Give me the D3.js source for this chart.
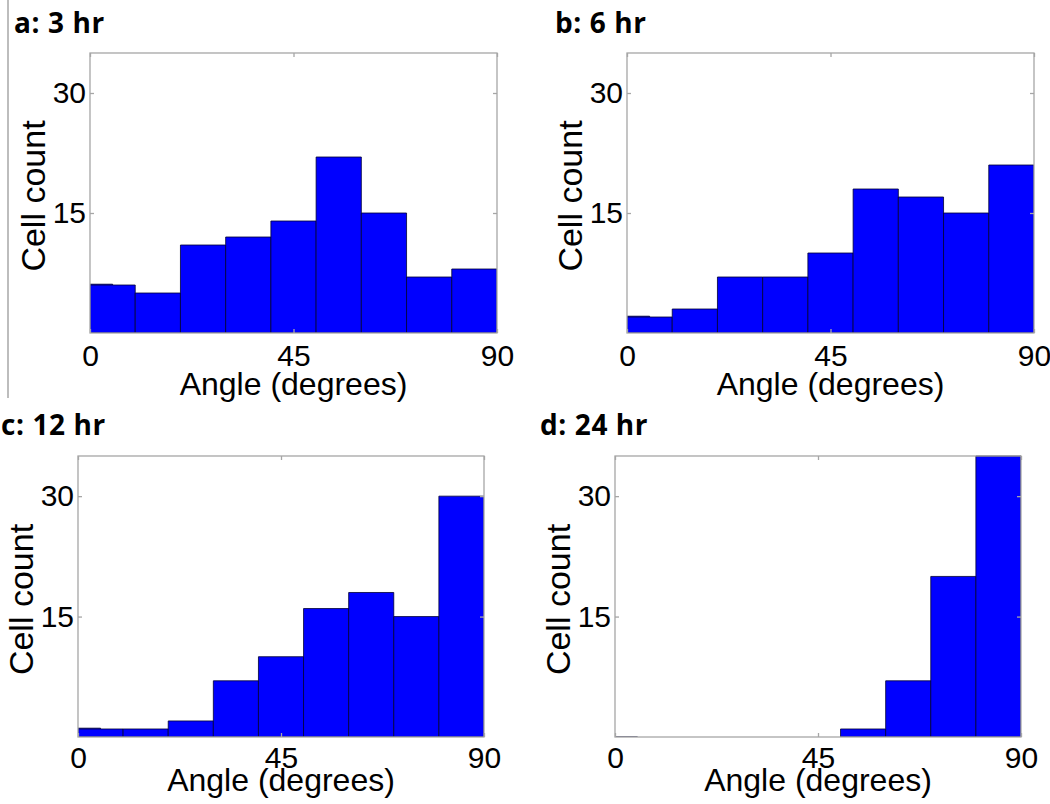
<!DOCTYPE html>
<html>
<head>
<meta charset="utf-8">
<script src="https://cdn.jsdelivr.net/npm/d3@7"></script>
<style>
  html, body { margin: 0; padding: 0; background: #fff; }
  svg { display: block; }
</style>
</head>
<body>
<svg id="chart" width="1050" height="804"></svg>
<script>
// ---- data ----
const binStarts = [0, 10, 20, 30, 40, 50, 60, 70, 80];   // degrees, 10-degree bins
const binWidth = 10;
const panelTitles = ["a: 3 hr", "b: 6 hr", "c: 12 hr", "d: 24 hr"];
const counts3h  = [6, 5, 11, 12, 14, 22, 15, 7, 8];
const counts6h  = [2, 3, 7, 7, 10, 18, 17, 15, 21];
const counts12h = [1, 1, 2, 7, 10, 16, 18, 15, 30];
const counts24h = [0, 0, 0, 0, 0, 1, 7, 20, 35];
// extra bar centred on 0 deg (spans -5..5, clipped by the axes)
const zeroBinCounts = [6.1, 2.1, 1.1, 0];
const xTicks = [0, 45, 90];
const yTicks = [15, 30];
const xDomain = [0, 90];
const yDomain = [0, 35];
const xLabel = "Angle (degrees)";
const yLabel = "Cell count";

const seriesList = [counts3h, counts6h, counts12h, counts24h];

// ---- layout ----
const boxes = [
  {x0: 90,  x1: 497,  y0: 53,  y1: 333, tx: 14,  ty: 33,  pad: 12, lab: 62},
  {x0: 627, x1: 1034, y0: 53,  y1: 333, tx: 555, ty: 33,  pad: 12, lab: 62},
  {x0: 78,  x1: 484,  y0: 456, y1: 737, tx: 1,   ty: 435, pad: 10, lab: 54},
  {x0: 615, x1: 1021, y0: 456, y1: 737, tx: 540, ty: 435, pad: 10, lab: 54}
];

const svg = d3.select("#chart");
const frameColor = "#a6a6a6";
const axisFont = "'Liberation Sans', Arial, Helvetica, sans-serif";
const titleFont = "'Open Sans', 'Noto Sans', sans-serif";

// left divider line
svg.append("line")
  .attr("x1", 8).attr("x2", 8).attr("y1", 0).attr("y2", 398)
  .attr("stroke", "#9a9a9a").attr("stroke-width", 1.3);

boxes.forEach((b, i) => {
  const x = d3.scaleLinear().domain(xDomain).range([b.x0, b.x1]);
  const y = d3.scaleLinear().domain(yDomain).range([b.y1, b.y0]);
  const g = svg.append("g");

  const clipId = "clip" + i;
  svg.append("clipPath").attr("id", clipId)
    .append("rect")
    .attr("x", b.x0).attr("y", b.y0 - 1)
    .attr("width", b.x1 - b.x0).attr("height", b.y1 - b.y0 + 1);

  const barsG = g.append("g").attr("clip-path", `url(#${clipId})`);
  const data = binStarts.map((s, k) => ({s, v: seriesList[i][k]})).filter(d => d.v > 0);

  const barPath = (x0v, x1v, v) => {
    const xa = x(x0v), xb = x(x1v), ya = y(0), yb = y(v);
    return `M${xa},${ya}V${yb}H${xb}V${ya}Z`;
  };

  // bar centred on zero (drawn underneath)
  barsG.append("path")
    .attr("d", barPath(-binWidth / 2, binWidth / 2, zeroBinCounts[i]))
    .attr("fill", "#0000ff")
    .attr("stroke", "#000033")
    .attr("stroke-width", 0.8);

  barsG.selectAll("path.bar").data(data).join("path")
    .attr("class", "bar")
    .attr("d", d => barPath(d.s, d.s + binWidth, d.v))
    .attr("fill", "#0000ff")
    .attr("stroke", "#000033")
    .attr("stroke-width", 0.8);

  // frame
  g.append("rect")
    .attr("x", b.x0).attr("y", b.y0)
    .attr("width", b.x1 - b.x0).attr("height", b.y1 - b.y0)
    .attr("fill", "none").attr("stroke", frameColor).attr("stroke-width", 1.3);

  // axes
  const styleAxis = (ax) => {
    ax.select(".domain").remove();
    ax.selectAll(".tick line").attr("stroke", frameColor).attr("stroke-width", 1.3);
    ax.selectAll(".tick text").attr("fill", "#000")
      .style("font-family", axisFont).style("font-size", "30px");
  };

  const xa = g.append("g").attr("transform", `translate(0,${b.y1})`)
    .call(d3.axisBottom(x).tickValues(xTicks).tickSize(-4).tickPadding(b.pad).tickFormat(d3.format("d")));
  styleAxis(xa);
  const xt = g.append("g").attr("transform", `translate(0,${b.y0})`)
    .call(d3.axisTop(x).tickValues(xTicks).tickSize(-4).tickFormat(""));
  styleAxis(xt);
  const yl = g.append("g").attr("transform", `translate(${b.x0},0)`)
    .call(d3.axisLeft(y).tickValues(yTicks).tickSize(-4).tickPadding(4).tickFormat(d3.format("d")));
  styleAxis(yl);
  const yr = g.append("g").attr("transform", `translate(${b.x1},0)`)
    .call(d3.axisRight(y).tickValues(yTicks).tickSize(-4).tickFormat(""));
  styleAxis(yr);

  // axis labels
  g.append("text")
    .attr("x", (b.x0 + b.x1) / 2).attr("y", b.y1 + b.lab)
    .attr("text-anchor", "middle")
    .style("font-family", axisFont).style("font-size", "32px")
    .text(xLabel);
  g.append("text")
    .attr("transform", `translate(${b.x0 - 45},${(b.y0 + b.y1) / 2 + 3}) rotate(-90)`)
    .attr("text-anchor", "middle")
    .style("font-family", axisFont).style("font-size", "34px")
    .text(yLabel);

  // panel title
  g.append("text")
    .attr("x", b.tx).attr("y", b.ty)
    .style("font-family", titleFont).style("font-weight", 700).style("font-size", "28px")
    .style("letter-spacing", "0.6px")
    .text(panelTitles[i]);
});
</script>
</body>
</html>
